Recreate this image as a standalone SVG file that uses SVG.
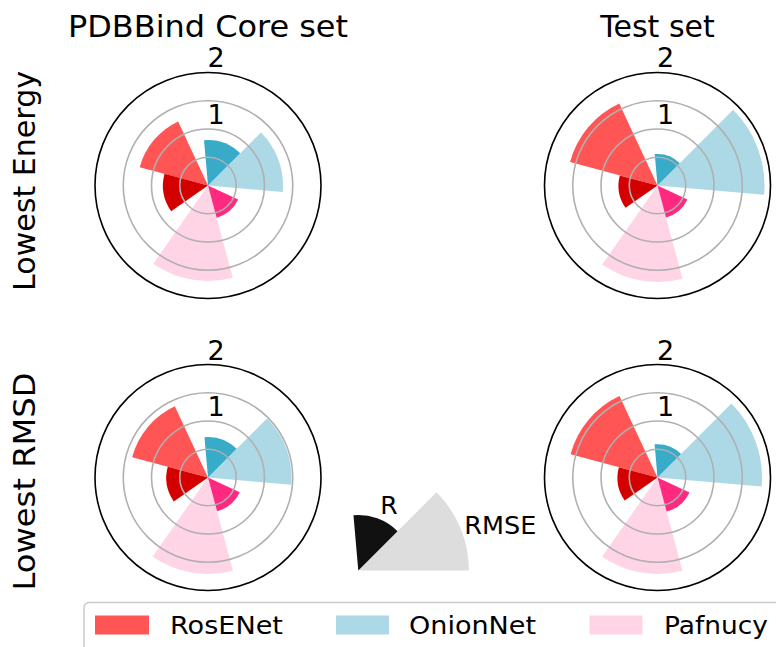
<svg xmlns="http://www.w3.org/2000/svg" width="776" height="647" viewBox="0 0 776 647">
<style>
text{font-family:"DejaVu Sans",Verdana,sans-serif;fill:#000}
.title{font-size:30px;text-anchor:middle}
.tick{font-size:27px;text-anchor:middle}
.leg{font-size:25px}
.grid{fill:none;stroke:#b0b0b0;stroke-width:1.6}
.spine{fill:none;stroke:#000;stroke-width:1.6}
.rr{fill:#ff5555}.rd{fill:#d40000}
.ob{fill:#add8e6}.od{fill:#37abc8}
.pl{fill:#ffd5e5}.pd{fill:#ff2a7f}
</style>
<defs>
<g id="rings">
<circle class="grid" r="28.25"/>
<circle class="grid" r="56.5"/>
<circle class="grid" r="84.75"/>
<circle class="spine" r="113"/>
</g>
</defs>
<rect width="776" height="647" fill="#fff"/>

<g id="labels">
<text class="title" x="208" y="37" textLength="280" lengthAdjust="spacingAndGlyphs">PDBBind Core set</text>
<text class="title" x="657.5" y="37">Test set</text>
<text class="title" transform="translate(35,181) rotate(-90)" textLength="220" lengthAdjust="spacingAndGlyphs">Lowest Energy</text>
<text class="title" transform="translate(35,481.5) rotate(-90)" textLength="218" lengthAdjust="spacingAndGlyphs">Lowest RMSD</text>
</g>

<g id="chart-core-energy" transform="translate(208,185.5)">
<path class="ob" d="M0,0 L74.71,6.54 A75,75 0 0 0 53.03,-53.03 Z"/>
<path class="od" d="M0,0 L32.17,-32.17 A45.5,45.5 0 0 0 -3.97,-45.33 Z"/>
<path class="rr" d="M0,0 L-29.88,-64.08 A70.7,70.7 0 0 0 -68.29,-18.3 Z"/>
<path class="rd" d="M0,0 L-43.47,-11.65 A45,45 0 0 0 -36.86,25.81 Z"/>
<path class="pl" d="M0,0 L-54.78,78.23 A95.5,95.5 0 0 0 24.72,92.25 Z"/>
<path class="pd" d="M0,0 L8.62,32.17 A33.3,33.3 0 0 0 30.18,14.07 Z"/>
<use href="#rings"/>
<text class="tick" x="8" y="-62">1</text>
<text class="tick" x="8" y="-119">2</text>
</g>

<g id="chart-test-energy" transform="translate(657.5,185.5)">
<path class="ob" d="M0,0 L106.59,9.33 A107,107 0 0 0 75.66,-75.66 Z"/>
<path class="od" d="M0,0 L22.27,-22.27 A31.5,31.5 0 0 0 -2.75,-31.38 Z"/>
<path class="rr" d="M0,0 L-38.25,-82.02 A90.5,90.5 0 0 0 -87.42,-23.42 Z"/>
<path class="rd" d="M0,0 L-37.67,-10.09 A39,39 0 0 0 -31.95,22.37 Z"/>
<path class="pl" d="M0,0 L-55.35,79.05 A96.5,96.5 0 0 0 24.98,93.21 Z"/>
<path class="pd" d="M0,0 L8.54,31.88 A33,33 0 0 0 29.91,13.95 Z"/>
<use href="#rings"/>
<text class="tick" x="8" y="-62">1</text>
<text class="tick" x="8" y="-119">2</text>
</g>

<g id="chart-core-rmsd" transform="translate(208,477.5)">
<path class="ob" d="M0,0 L83.18,7.28 A83.5,83.5 0 0 0 59.04,-59.04 Z"/>
<path class="od" d="M0,0 L28.64,-28.64 A40.5,40.5 0 0 0 -3.53,-40.35 Z"/>
<path class="rr" d="M0,0 L-33.18,-71.15 A78.5,78.5 0 0 0 -75.83,-20.32 Z"/>
<path class="rd" d="M0,0 L-40.28,-10.79 A41.7,41.7 0 0 0 -34.16,23.92 Z"/>
<path class="pl" d="M0,0 L-55.35,79.05 A96.5,96.5 0 0 0 24.98,93.21 Z"/>
<path class="pd" d="M0,0 L9.06,33.81 A35,35 0 0 0 31.72,14.79 Z"/>
<use href="#rings"/>
<text class="tick" x="8" y="-62">1</text>
<text class="tick" x="8" y="-118">2</text>
</g>

<g id="chart-test-rmsd" transform="translate(657.5,477.5)">
<path class="ob" d="M0,0 L104.1,9.11 A104.5,104.5 0 0 0 73.89,-73.89 Z"/>
<path class="od" d="M0,0 L23.55,-23.55 A33.3,33.3 0 0 0 -2.9,-33.17 Z"/>
<path class="rr" d="M0,0 L-38.04,-81.57 A90,90 0 0 0 -86.93,-23.29 Z"/>
<path class="rd" d="M0,0 L-38.64,-10.35 A40,40 0 0 0 -32.77,22.94 Z"/>
<path class="pl" d="M0,0 L-55.35,79.05 A96.5,96.5 0 0 0 24.98,93.21 Z"/>
<path class="pd" d="M0,0 L9.14,34.1 A35.3,35.3 0 0 0 31.99,14.92 Z"/>
<use href="#rings"/>
<text class="tick" x="8" y="-62">1</text>
<text class="tick" x="8" y="-118">2</text>
</g>

<g id="key-r-rmse" transform="translate(358.3,570.5)">
<path fill="#dddddd" d="M0,0 L110.6,0 A110.6,110.6 0 0 0 78.2,-78.2 Z"/>
<path fill="#111111" d="M0,0 L39.24,-39.24 A55.5,55.5 0 0 0 -4.84,-55.29 Z"/>
<text class="leg" x="30.7" y="-57" text-anchor="middle">R</text>
<text class="leg" x="106" y="-37" textLength="72" lengthAdjust="spacingAndGlyphs">RMSE</text>
</g>

<g id="legend">
<rect x="84" y="602.5" width="720" height="70" rx="5" fill="#fff" fill-opacity="0.8" stroke="#cccccc" stroke-width="1.5"/>
<rect x="95" y="615.5" width="54" height="19" class="rr"/>
<text class="leg" x="170" y="634.3" textLength="113" lengthAdjust="spacingAndGlyphs">RosENet</text>
<rect x="336" y="615.5" width="53" height="19" class="ob"/>
<text class="leg" x="409" y="634.3" textLength="127" lengthAdjust="spacingAndGlyphs">OnionNet</text>
<rect x="589.5" y="615.5" width="53" height="19" class="pl"/>
<text class="leg" x="664" y="634.3" textLength="104" lengthAdjust="spacingAndGlyphs">Pafnucy</text>
</g>
</svg>
